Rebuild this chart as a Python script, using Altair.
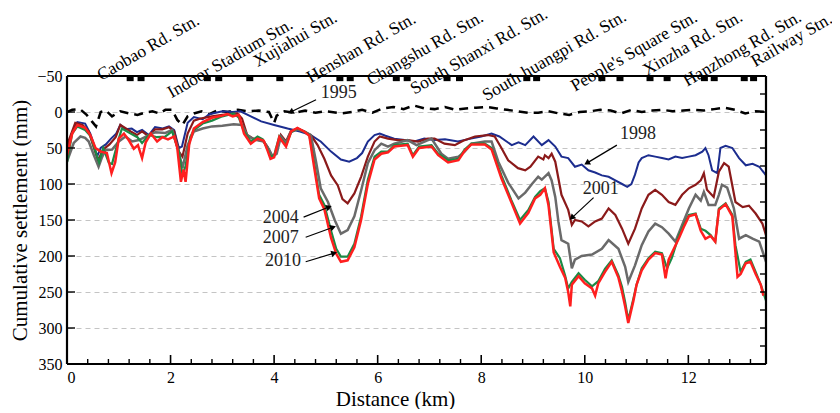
import math
import altair as alt
import pandas as pd

# ---------------- data (km, cumulative settlement mm) ----------------
s1995 = [(0.0,0),(0.1,-3),(0.25,-4),(0.38,4),(0.48,13),(0.56,20),(0.65,0),(0.75,-2),(0.87,6),(1.03,-1),
         (1.2,2),(1.36,4),(1.5,1),(1.65,-1),(1.78,2),(1.9,-3),(2.03,-3),(2.13,11),(2.23,18),(2.33,6),
         (2.45,2),(2.6,-1),(2.75,3),(2.9,-2),(3.1,0),(3.3,-3),(3.5,-1),(3.7,-2),(3.9,0),(4.0,15),
         (4.05,5),(4.2,-1),(4.4,1),(4.6,-2),(4.8,1),(5.0,-1),(5.3,2),(5.5,0),(5.7,-3),(5.9,1),
         (6.1,-5),(6.3,-7),(6.5,-4),(6.7,-9),(6.9,-5),(7.1,-4),(7.3,-7),(7.5,-3),(7.7,-5),(7.9,-6),
         (8.1,-7),(8.3,-5),(8.5,-3),(8.7,-1),(8.9,1),(9.1,1),(9.3,-1),(9.5,2),(9.7,4),(9.9,0),
         (10.1,-1),(10.3,-3),(10.5,-2),(10.7,2),(10.9,-3),(11.1,0),(11.3,-2),(11.5,-3),(11.7,-1),(11.9,-2),
         (12.1,-3),(12.3,-2),(12.5,-4),(12.7,-6),(12.9,-3),(13.1,2),(13.3,-1),(13.5,0)]

s1998 = [(0.0,52),(0.1,28),(0.2,14),(0.35,16),(0.45,30),(0.52,45),(0.58,62),(0.65,50),(0.75,45),(0.85,37),
         (0.95,30),(1.03,18),(1.13,24),(1.25,23),(1.35,28),(1.45,25),(1.58,32),(1.7,21),(1.85,23),(1.97,20),
         (2.07,25),(2.16,50),(2.22,48),(2.33,15),(2.45,7),(2.62,10),(2.75,3),(3.0,-1),(3.2,0),(3.35,-1),
         (3.55,6),(3.75,13),(4.0,18),(4.26,23),(4.5,27),(4.71,32),(4.9,41),(5.1,55),(5.29,66),(5.45,69),
         (5.6,64),(5.7,57),(5.81,41),(5.94,32),(6.04,30),(6.15,33),(6.32,37),(6.52,39),(6.71,41),(6.9,37),
         (7.1,39),(7.3,38),(7.55,41),(7.8,37),(8.0,34),(8.2,30),(8.35,34),(8.59,46),(8.72,42),(8.85,46),
         (9.01,34),(9.17,46),(9.3,39),(9.43,48),(9.55,62),(9.68,64),(9.81,76),(9.94,73),(10.07,81),(10.2,84),
         (10.33,88),(10.46,90),(10.59,95),(10.72,100),(10.82,104),(10.9,100),(10.97,87),(11.04,70),(11.1,64),(11.23,60),
         (11.36,62),(11.49,64),(11.62,66),(11.75,62),(11.88,64),(12.01,62),(12.14,60),(12.27,55),(12.33,50),(12.39,60),
         (12.46,81),(12.56,85),(12.62,50),(12.72,47),(12.85,50),(12.98,64),(13.11,74),(13.24,72),(13.37,76),(13.5,88)]

s2001 = [(0.0,46),(0.16,15),(0.3,18),(0.42,27),(0.52,50),(0.6,67),(0.7,52),(0.82,45),(0.94,35),(1.03,18),
         (1.23,27),(1.35,32),(1.45,27),(1.58,34),(1.7,24),(1.84,24),(1.97,21),(2.07,27),(2.16,55),(2.23,62),
         (2.33,30),(2.45,12),(2.58,9),(2.8,6),(3.0,4),(3.29,2),(3.38,9),(3.48,32),(3.6,37),(3.8,41),
         (3.87,48),(3.97,62),(4.05,55),(4.13,32),(4.23,41),(4.32,27),(4.45,23),(4.58,27),(4.71,32),(4.84,46),
         (4.97,65),(5.1,88),(5.23,102),(5.32,121),(5.42,127),(5.55,113),(5.68,90),(5.81,62),(5.94,41),(6.04,34),
         (6.2,37),(6.39,39),(6.58,39),(6.78,41),(6.97,37),(7.1,37),(7.29,44),(7.49,46),(7.65,40),(7.88,34),
         (8.13,32),(8.26,34),(8.39,50),(8.52,67),(8.71,78),(8.85,81),(8.95,76),(9.1,62),(9.2,66),(9.23,60),
         (9.3,64),(9.36,58),(9.43,69),(9.55,115),(9.68,136),(9.75,157),(9.81,150),(9.94,152),(10.07,159),(10.2,152),
         (10.33,148),(10.46,134),(10.59,143),(10.72,162),(10.84,183),(10.97,162),(11.1,134),(11.23,115),(11.36,108),(11.49,115),
         (11.62,125),(11.75,129),(11.88,115),(12.01,106),(12.14,101),(12.24,95),(12.3,85),(12.36,108),(12.49,118),(12.59,83),
         (12.69,71),(12.78,76),(12.91,125),(13.05,132),(13.17,130),(13.3,141),(13.43,155),(13.5,171)]

s2004 = [(0.0,69),(0.13,43),(0.26,34),(0.35,36),(0.42,41),(0.52,60),(0.61,76),(0.67,64),(0.74,53),(0.87,52),
         (1.0,41),(1.13,34),(1.26,41),(1.39,39),(1.58,32),(1.71,28),(1.9,29),(2.03,25),(2.16,55),(2.23,78),
         (2.33,46),(2.45,27),(2.62,23),(2.8,20),(3.0,19),(3.22,17),(3.38,18),(3.48,32),(3.6,38),(3.8,41),
         (3.9,52),(3.97,62),(4.05,58),(4.13,34),(4.23,43),(4.32,28),(4.45,24),(4.58,27),(4.71,32),(4.81,69),
         (4.9,106),(5.04,125),(5.17,150),(5.29,169),(5.42,164),(5.55,145),(5.68,109),(5.81,71),(5.94,53),(6.07,44),
         (6.2,48),(6.32,44),(6.58,39),(6.75,46),(7.04,37),(7.23,58),(7.36,65),(7.56,62),(7.68,55),(7.81,44),
         (8.07,41),(8.2,41),(8.33,69),(8.52,98),(8.72,120),(8.85,112),(8.98,100),(9.1,90),(9.17,94),(9.3,85),
         (9.36,95),(9.43,118),(9.49,152),(9.55,178),(9.68,183),(9.75,217),(9.81,205),(9.94,200),(10.14,198),(10.33,190),
         (10.46,178),(10.65,190),(10.78,215),(10.84,236),(10.97,213),(11.1,185),(11.23,166),(11.36,155),(11.49,160),(11.62,169),
         (11.75,180),(11.88,157),(12.01,134),(12.14,115),(12.24,123),(12.3,111),(12.39,129),(12.52,129),(12.59,115),(12.65,101),
         (12.75,105),(12.88,134),(12.98,176),(13.11,171),(13.24,176),(13.37,180),(13.5,208)]

s2007 = [(0.0,70),(0.1,30),(0.2,20),(0.35,25),(0.45,33),(0.55,55),(0.62,70),(0.7,50),(0.81,71),(0.87,72),
         (1.0,37),(1.06,23),(1.23,30),(1.36,35),(1.45,43),(1.58,32),(1.74,35),(1.9,34),(2.03,27),(2.16,55),
         (2.23,88),(2.29,75),(2.38,35),(2.45,25),(2.62,16),(2.8,12),(3.0,6),(3.22,2),(3.32,8),(3.42,27),
         (3.55,41),(3.68,34),(3.78,38),(3.87,51),(3.93,62),(4.0,60),(4.1,34),(4.23,46),(4.33,28),(4.45,23),
         (4.58,27),(4.68,32),(4.77,69),(4.87,115),(4.97,129),(5.1,165),(5.2,190),(5.29,201),(5.42,201),(5.55,183),
         (5.68,145),(5.81,94),(5.94,62),(6.07,55),(6.2,55),(6.32,46),(6.58,44),(6.68,60),(6.8,48),(7.04,46),
         (7.17,58),(7.36,67),(7.56,65),(7.68,52),(7.81,44),(8.07,44),(8.2,50),(8.39,88),(8.58,122),(8.75,150),
         (8.91,136),(9.04,118),(9.14,110),(9.23,106),(9.3,125),(9.4,190),(9.52,203),(9.62,227),(9.68,245),(9.75,236),
         (9.88,224),(10.0,233),(10.14,242),(10.26,235),(10.39,218),(10.52,206),(10.65,227),(10.72,243),(10.78,264),(10.84,289),
         (10.94,259),(11.0,240),(11.1,217),(11.23,203),(11.36,194),(11.49,196),(11.59,217),(11.68,203),(11.82,171),(11.91,157),
         (12.01,143),(12.14,141),(12.24,162),(12.33,165),(12.43,171),(12.52,180),(12.59,134),(12.72,127),(12.85,143),(12.91,185),
         (13.01,222),(13.11,208),(13.2,205),(13.3,222),(13.4,240),(13.5,262)]

s2010 = [(0.0,60),(0.1,30),(0.2,18),(0.35,22),(0.45,32),(0.55,50),(0.65,55),(0.77,57),(0.86,85),(0.93,70),
         (1.0,37),(1.1,30),(1.2,40),(1.29,51),(1.37,46),(1.45,64),(1.52,42),(1.62,30),(1.74,41),(1.84,35),
         (1.95,38),(2.07,34),(2.13,50),(2.2,97),(2.25,80),(2.29,97),(2.36,45),(2.45,23),(2.62,14),(2.8,8),
         (3.0,5),(3.1,3),(3.2,6),(3.32,4),(3.42,30),(3.55,44),(3.68,37),(3.8,40),(3.87,53),(3.93,65),
         (4.0,63),(4.1,35),(4.23,48),(4.33,27),(4.45,22),(4.58,27),(4.68,33),(4.77,75),(4.87,120),(4.97,135),
         (5.1,175),(5.2,197),(5.29,208),(5.42,206),(5.55,188),(5.68,150),(5.81,100),(5.94,66),(6.07,58),(6.2,56),
         (6.32,48),(6.58,46),(6.68,62),(6.8,50),(7.04,48),(7.17,60),(7.36,70),(7.56,67),(7.68,54),(7.81,45),
         (8.07,45),(8.2,52),(8.39,92),(8.58,125),(8.75,155),(8.91,140),(9.04,120),(9.14,115),(9.23,106),(9.3,130),
         (9.4,195),(9.52,215),(9.62,230),(9.68,250),(9.72,270),(9.75,240),(9.88,228),(10.0,238),(10.14,245),(10.2,255),
         (10.26,238),(10.39,222),(10.52,208),(10.65,230),(10.72,250),(10.78,270),(10.84,293),(10.94,262),(11.0,240),(11.1,220),
         (11.23,205),(11.36,196),(11.49,198),(11.56,231),(11.62,205),(11.82,175),(11.91,160),(12.01,145),(12.14,142),(12.24,165),
         (12.33,176),(12.43,172),(12.52,180),(12.59,136),(12.72,128),(12.85,145),(12.95,229),(13.01,225),(13.11,210),(13.2,208),
         (13.3,225),(13.4,240),(13.45,255)]

station_names = ["Caobao Rd. Stn.", "Indoor Stadium Stn.", "Xujiahui Stn.", "Henshan Rd. Stn.",
                 "Changshu Rd. Stn.", "South Shanxi Rd. Stn.", "South huangpi Rd. Stn.",
                 "People's Square Stn.", "Xinzha Rd. Stn.", "Hanzhong Rd. Stn.", "Railway Stn."]
station_label_km = [0.66, 2.02, 3.68, 4.71, 5.87, 6.71, 8.10, 9.81, 11.20, 11.98, 13.29]
station_label_mm = [-43, -19, -62, -40, -36, -24, -15, -28, -50, -35, -62]
station_marks_km = [1.22, 1.43, 2.71, 2.93, 3.53, 4.11, 5.27, 5.47, 6.36, 6.57, 7.34, 7.58,
                    8.88, 9.07, 10.33, 10.68, 11.26, 11.59, 12.31, 12.50, 13.08, 13.26]

year_labels = ["1995", "1998", "2001", "2004", "2007", "2010"]
year_label_km = [5.25, 11.03, 10.31, 4.13, 4.13, 4.17]
year_label_mm = [-26, 31, 107, 147, 175, 207]
arrow_tail_km = [4.81, 10.62, 10.17, 4.57, 4.61, 4.61]
arrow_tail_mm = [-17, 46, 119, 146, 174, 208]
arrow_head_km = [4.32, 10.04, 9.75, 5.06, 5.14, 5.16]
arrow_head_mm = [0, 71, 147, 132, 160, 196]

x_major_ticks = [0, 2, 4, 6, 8, 10, 12]
x_minor_ticks = [0.4, 0.8, 1.2, 1.6, 2.4, 2.8, 3.2, 3.6, 4.4, 4.8, 5.2, 5.6, 6.4, 6.8, 7.2, 7.6,
                 8.4, 8.8, 9.2, 9.6, 10.4, 10.8, 11.2, 11.6, 12.4, 12.8, 13.2]
y_label_values = [-50, 0, 50, 100, 150, 200, 250, 300, 350]
y_left_ticks = [0, 50, 100, 150, 200, 250, 300]
y_right_ticks = [-25, 0, 25, 50, 75, 100, 125, 150, 175, 200, 225, 250, 275, 300, 325]

# ---------------- layout ----------------
W, H = 699, 288
XMIN, XMAX = 0, 13.5
YMIN, YMAX = -50, 350
FONT = "Liberation Serif"

xscale = alt.Scale(domain=[XMIN, XMAX], nice=False, zero=False)
yscale = alt.Scale(domain=[YMIN, YMAX], nice=False, zero=False, reverse=True)

x_axis = alt.Axis(values=x_major_ticks, ticks=False, grid=False, domain=False,
                  labelFont=FONT, labelFontSize=16, labelColor="black", labelPadding=5,
                  title="Distance (km)", titleFont=FONT, titleFontSize=21, titleFontWeight="normal",
                  titleColor="black", titleX=328, titleY=41, titleBaseline="alphabetic",
                  titleAlign="center", format="d")
y_axis = alt.Axis(values=y_label_values, ticks=False, grid=True, gridColor="#c4c4c4",
                  gridDash=[5, 4], gridWidth=1, domain=False,
                  labelFont=FONT, labelFontSize=16, labelColor="black", labelPadding=5,
                  title="Cumulative settlement (mm)", titleFont=FONT, titleFontSize=21,
                  titleFontWeight="normal", titleColor="black", titleX=-47, titleY=144,
                  titleAngle=270, titleAlign="center", titleBaseline="middle", format="d")


def X(field):
    return alt.X(field, type="quantitative", scale=xscale, axis=x_axis)


def Y(field):
    return alt.Y(field, type="quantitative", scale=yscale, axis=y_axis)


def series_df(pairs):
    return pd.DataFrame({"km": [p[0] for p in pairs], "mm": [p[1] for p in pairs],
                         "i": list(range(len(pairs)))})


styles = [
    (s1995, "#000000", 2.5, [9, 6]),
    (s1998, "#1c2d8f", 2.0, None),
    (s2001, "#8b1a1a", 2.2, None),
    (s2004, "#6a6a6a", 2.5, None),
    (s2007, "#1b8a45", 2.2, None),
    (s2010, "#ff1f1f", 2.5, None),
]

layers = []
for pairs, color, sw, dash in styles:
    kw = dict(color=color, strokeWidth=sw, clip=True)
    if dash:
        kw["strokeDash"] = dash
    layers.append(alt.Chart(series_df(pairs)).mark_line(**kw).encode(
        x=X("km"), y=Y("mm"), order="i:Q"))

# tick marks drawn inward
layers.append(alt.Chart(pd.DataFrame({"km": x_major_ticks})).mark_tick(
    orient="vertical", size=9, thickness=1.6, color="black", yOffset=-4.5, opacity=1
).encode(x=X("km"), y=alt.datum(YMAX, scale=yscale, axis=y_axis)))
layers.append(alt.Chart(pd.DataFrame({"km": x_minor_ticks})).mark_tick(
    orient="vertical", size=5, thickness=1.4, color="black", yOffset=-2.5, opacity=1
).encode(x=X("km"), y=alt.datum(YMAX, scale=yscale, axis=y_axis)))
layers.append(alt.Chart(pd.DataFrame({"mm": y_left_ticks})).mark_tick(
    orient="horizontal", size=8, thickness=1.4, color="black", xOffset=4, opacity=1
).encode(y=Y("mm"), x=alt.datum(XMIN, scale=xscale, axis=x_axis)))
layers.append(alt.Chart(pd.DataFrame({"mm": y_right_ticks})).mark_tick(
    orient="horizontal", size=6, thickness=1.4, color="black", xOffset=-3, opacity=1
).encode(y=Y("mm"), x=alt.datum(XMAX, scale=xscale, axis=x_axis)))

# station markers along the top border
layers.append(alt.Chart(pd.DataFrame({"km": station_marks_km, "mm": [-46] * len(station_marks_km)}))
              .mark_point(shape="M-1,-0.65H1V0.65H-1Z", size=49, filled=True, color="black",
                          opacity=1, strokeWidth=0)
              .encode(x=X("km"), y=Y("mm")))

# station names (rotated)
layers.append(alt.Chart(pd.DataFrame({"km": station_label_km, "mm": station_label_mm,
                                      "name": station_names}))
              .mark_text(angle=330, align="left", baseline="alphabetic", font=FONT,
                         fontSize=17.5, color="black")
              .encode(x=X("km"), y=Y("mm"), text="name:N"))

# arrows for year annotations
px_per_km = W / (XMAX - XMIN)
px_per_mm = H / (YMAX - YMIN)
angles = []
for tk, tm, hk, hm in zip(arrow_tail_km, arrow_tail_mm, arrow_head_km, arrow_head_mm):
    dx = (hk - tk) * px_per_km
    dy = (hm - tm) * px_per_mm
    angles.append(math.degrees(math.atan2(dx, -dy)) % 360)
arrows = pd.DataFrame({"km": arrow_tail_km, "mm": arrow_tail_mm,
                       "km2": arrow_head_km, "mm2": arrow_head_mm, "ang": angles})
layers.append(alt.Chart(arrows).mark_rule(color="black", strokeWidth=1.2).encode(
    x=X("km"), y=Y("mm"), x2="km2:Q", y2="mm2:Q"))
layers.append(alt.Chart(arrows).mark_point(shape="triangle-up", size=45, filled=True,
                                           color="black", opacity=1, strokeWidth=0).encode(
    x=X("km2"), y=Y("mm2"), angle=alt.Angle("ang:Q", scale=None)))

layers.append(alt.Chart(pd.DataFrame({"km": year_label_km, "mm": year_label_mm, "t": year_labels}))
              .mark_text(font=FONT, fontSize=18, color="#222222", align="center", baseline="middle")
              .encode(x=X("km"), y=Y("mm"), text="t:N"))

# frame lines
frame = pd.DataFrame({"km": [XMIN, XMIN, XMAX, XMIN], "mm": [YMIN, YMAX, YMIN, YMIN],
                      "km2": [XMIN, XMAX, XMAX, XMAX], "mm2": [YMAX, YMAX, YMAX, YMIN]})
layers.append(alt.Chart(frame).mark_rule(color="black", strokeWidth=2.2).encode(
    x=X("km"), y=Y("mm"), x2="km2:Q", y2="mm2:Q"))

chart = alt.layer(*layers).properties(
    width=W, height=H,
    padding={"left": 59, "top": 68, "right": 66, "bottom": 45},
    autosize=alt.AutoSizeParams(type="none"),
).configure_view(stroke=None).configure(background="white")

chart.save("out.html", embed_options={"renderer": "svg", "actions": False})
